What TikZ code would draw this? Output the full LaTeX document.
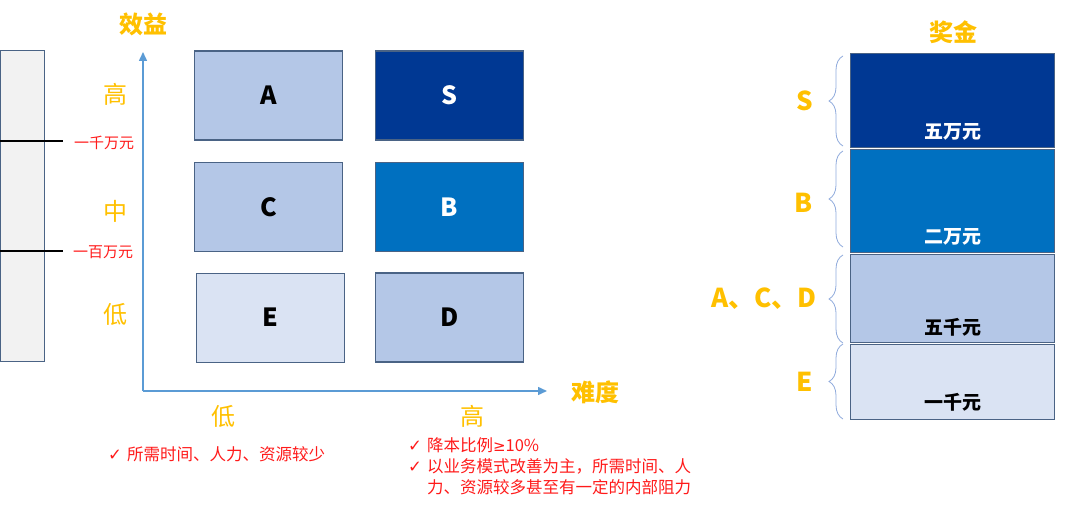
\documentclass[tikz,border=0pt]{standalone}
\usepackage{fontspec}
\setmainfont{Noto Sans CJK SC}
\newfontfamily\symfont{DejaVu Sans}
\usetikzlibrary{arrows.meta,decorations.pathreplacing}
\definecolor{gold}{HTML}{FFC000}
\definecolor{axisblue}{HTML}{5B9BD5}
\definecolor{bracecol}{HTML}{8FAADC}
\definecolor{edge}{HTML}{4A6385}
\definecolor{navy}{HTML}{003893}
\definecolor{midblue}{HTML}{0070C0}
\definecolor{paleblue}{HTML}{B4C7E7}
\definecolor{lightblue}{HTML}{DAE3F3}
\definecolor{notered}{HTML}{FF1A1A}
\tikzset{
  cell/.style={draw=edge,line width=1.2pt,minimum width=148pt,minimum height=89pt,inner sep=0pt,font=\fontsize{25}{28}\selectfont\bfseries},
  tier/.style={draw=edge,line width=1pt,minimum width=204pt,anchor=north west,inner sep=0pt},
  lvl/.style={text=gold,font=\fontsize{24}{28}\selectfont},
  ttl/.style={text=gold,font=\fontsize{24}{28}\selectfont\bfseries},
  grade/.style={text=gold,font=\fontsize{26}{28}\selectfont\bfseries},
  money/.style={text=notered,font=\fontsize{15}{18}\selectfont},
  note/.style={text=notered,font=\fontsize{16.5}{21}\selectfont,inner sep=0pt},
  amount/.style={font=\fontsize{19}{22}\selectfont\bfseries},
  curly/.style={draw=bracecol,line width=0.8pt,decorate,decoration={brace,amplitude=14pt,aspect=0.5}}
}
\begin{document}
\begin{tikzpicture}[x=1pt,y=-1pt]
  \useasboundingbox (0,0) rectangle (1080,508);
  % scale bar on the left
  \node[draw=edge,fill=gray!10,line width=1pt,minimum width=44pt,minimum height=311pt,anchor=north west,inner sep=0pt] (scale) at (0,50) {};
  \coordinate (t1) at (63,141);
  \coordinate (t2) at (63,251);
  \draw[line width=1.2pt] (scale.west |- t1) -- (t1);
  \draw[line width=1.2pt] (scale.west |- t2) -- (t2);
  \node[money] (m1) at (104,143) {一千万元};
  \node[money] (m2) at (103,252) {一百万元};
  \node[lvl] (yh) at (115,94) {高};
  \node[lvl] (ym) at (115,211) {中};
  \node[lvl] (yl) at (115,314) {低};
  % axes
  \coordinate (O) at (143,391);
  \coordinate (ytop) at (143,52);
  \coordinate (xend) at (547,391);
  \draw[axisblue,line width=1.5pt,-{Triangle[length=9pt,width=8pt]}] (O) -- (ytop);
  \draw[axisblue,line width=1.5pt,-{Triangle[length=9pt,width=8pt]}] (O) -- (xend);
  \node[ttl] (ylab) at (143,24) {效益};
  \node[ttl] (xlab) at (595,392) {难度};
  \node[lvl] (xl) at (223,416) {低};
  \node[lvl] (xh) at (472,416) {高};
  % grid of grades
  \node[cell,fill=paleblue] (A) at (268.5,95.5) {A};
  \node[cell,fill=navy,text=white] (S) at (449.5,95.5) {S};
  \node[cell,fill=paleblue] (C) at (268.5,207) {C};
  \node[cell,fill=midblue,text=white] (B) at (449.5,207) {B};
  \node[cell,fill=lightblue,line width=1pt] (E) at (270,317.5) {E};
  \node[cell,fill=paleblue] (D) at (449.5,317.5) {D};
  % notes
  \node[note,anchor=west] (nlow) at (108,456) {\begin{tabular}{@{}l@{\hspace{5pt}}l@{}}{\symfont ✓} & 所需时间、人力、资源较少\end{tabular}};
  \node[note,anchor=west] (nhigh) at (408,468) {\begin{tabular}{@{}l@{\hspace{5pt}}l@{}}{\symfont ✓} & 降本比例{\symfont\fontsize{15}{21}\selectfont ≥}10\%\\{\symfont ✓} & 以业务模式改善为主，所需时间、人\\ & 力、资源较多甚至有一定的内部阻力\end{tabular}};
  % bonus bars
  \node[ttl] (bonus) at (953,32) {奖金};
  \node[tier,fill=navy,minimum height=94pt] (pS) at (850,53) {};
  \node[tier,fill=midblue,minimum height=103pt] (pB) at (850,149) {};
  \node[tier,fill=paleblue,minimum height=88pt] (pACD) at (850,254) {};
  \node[tier,fill=lightblue,minimum height=75pt] (pE) at (850,344) {};
  \node[amount,text=white] at ([yshift=16pt]pS.south) {五万元};
  \node[amount,text=white] at ([yshift=16pt]pB.south) {二万元};
  \node[amount] at ([yshift=16pt]pACD.south) {五千元};
  \node[amount] at ([yshift=18pt]pE.south) {一千元};
  \draw[curly] ([xshift=-7pt,yshift=2pt]pS.south west) -- ([xshift=-7pt,yshift=-3pt]pS.north west);
  \draw[curly] ([xshift=-7pt,yshift=6pt]pB.south west) -- ([xshift=-7pt,yshift=-2pt]pB.north west);
  \draw[curly] ([xshift=-7pt,yshift=0pt]pACD.south west) -- ([xshift=-7pt,yshift=-1pt]pACD.north west);
  \draw[curly] ([xshift=-7pt,yshift=1pt]pE.south west) -- ([xshift=-7pt,yshift=0pt]pE.north west);
  \node[grade] (lS) at ([xshift=-45pt]pS.west) {S};
  \node[grade] (lB) at ([xshift=-46pt,yshift=-2pt]pB.west) {B};
  \node[grade,anchor=east] (lACD) at ([xshift=-30pt]pACD.west) {A、C、D};
  \node[grade] (lE) at ([xshift=-45pt]pE.west) {E};
\end{tikzpicture}
\end{document}
